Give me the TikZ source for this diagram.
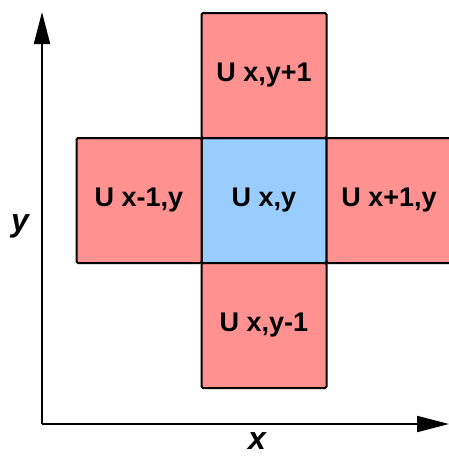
\documentclass[tikz,border=0pt]{standalone}
\usepackage{fontspec}
\setmainfont{Liberation Sans}
\usetikzlibrary{positioning,arrows.meta}
\definecolor{cellpink}{RGB}{255,145,145}
\definecolor{cellblue}{RGB}{153,204,255}

\begin{document}
\begin{tikzpicture}[x=1pt,y=-1pt,
  cell/.style={draw, line width=2pt, rounded corners=1.5pt, fill=cellpink,
    minimum size=125pt, outer sep=0pt, inner sep=0pt,
    font=\fontsize{27}{30}\selectfont\bfseries},
  axis/.style={line width=2pt, -{Triangle[length=32pt,width=16pt]}},
  axlabel/.style={font=\fontsize{32}{36}\selectfont\bfseries\itshape}]
  \useasboundingbox (0,0) rectangle (448,456);
  \node[cell, fill=cellblue] (c) at (264,200.5) {U x,y};
  \node[cell, above=0pt of c] (n) {U x,y+1};
  \node[cell, below=0pt of c] (s) {U x,y-1};
  \node[cell, left=0pt of c]  (w) {U x-1,y};
  \node[cell, right=0pt of c] (e) {U x+1,y};
  % axes
  \coordinate (o) at (42,424);
  \coordinate (ytop) at (42,12);
  \coordinate (xend) at (449,424);
  \draw[axis] (o) -- (ytop);
  \draw[axis] (o) -- (xend);
  \node[axlabel] (xl) at (257,441) {x};
  \node[axlabel] (yl) at (20,226) {y};
\end{tikzpicture}
\end{document}
